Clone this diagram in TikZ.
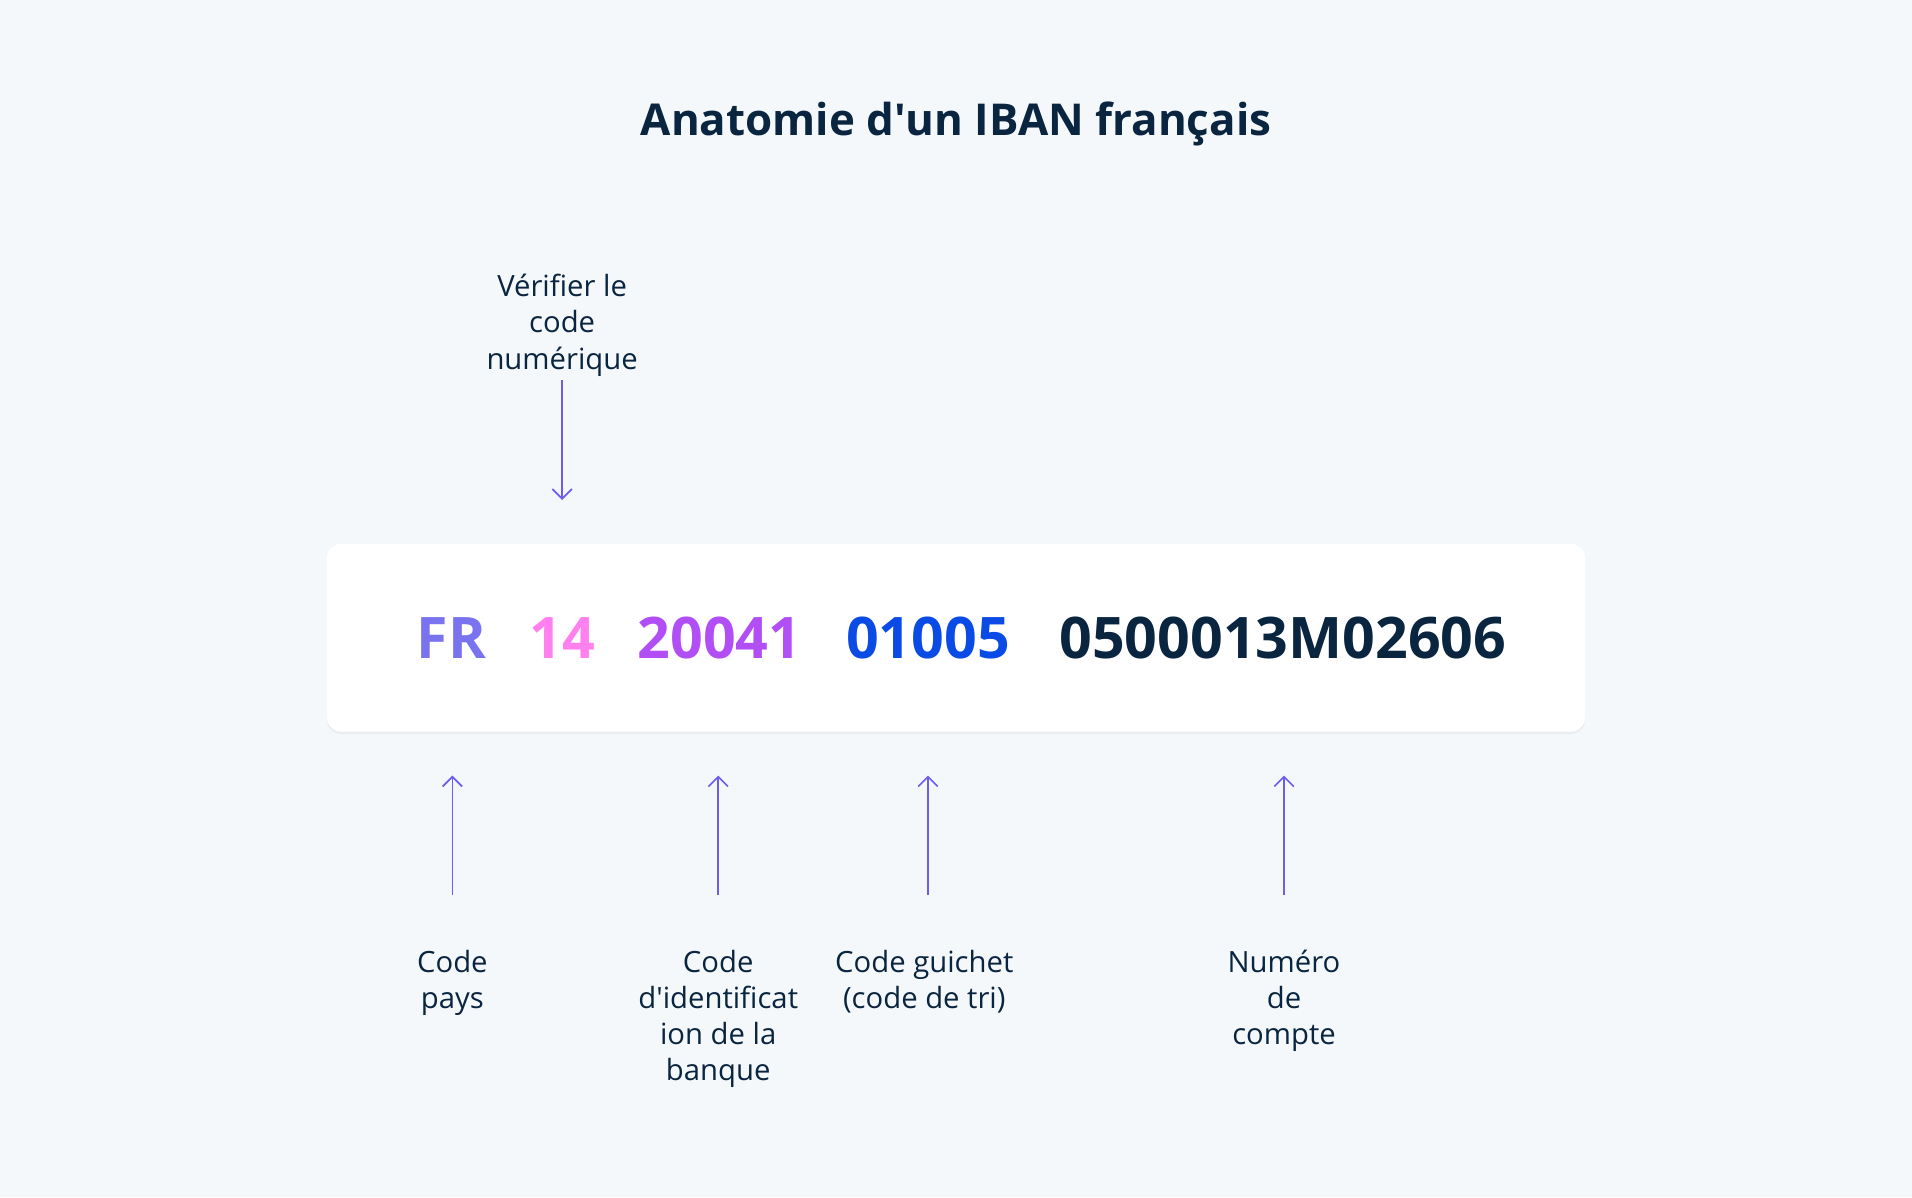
\documentclass[tikz,border=0pt]{standalone}
\usepackage{fontspec}
\setmainfont{Open Sans}
\usetikzlibrary{arrows.meta,shadows}
\definecolor{bg}{HTML}{F5F8FB}
\definecolor{navy}{HTML}{0A2540}
\definecolor{arr}{HTML}{6E5CF0}
\definecolor{cfr}{HTML}{7A73F0}
\definecolor{c14}{HTML}{FF80EE}
\definecolor{cbank}{HTML}{B14EF5}
\definecolor{cblue}{HTML}{0A4BE6}
\begin{document}
\begin{tikzpicture}[x=0.5pt,y=-0.5pt,
  lab/.style={align=center,text=navy,font=\fontsize{12}{14.8}\selectfont,anchor=north},
  num/.style={font=\fontsize{23.5}{26}\selectfont\bfseries},
  ar/.style={draw=arr,line width=0.7pt,-{Straight Barb[length=4pt,width=8pt]}}]
\fill[bg] (0,0) rectangle (1568,982);
\useasboundingbox (0,0) rectangle (1568,982);
\node[text=navy,font=\fontsize{18}{22}\selectfont\bfseries] (title) at (784,102) {Anatomie d\textquotesingle un IBAN français};
\node[fill=white,rounded corners=6pt,minimum width=516pt,minimum height=77pt,
  drop shadow={opacity=0.08,shadow xshift=0pt,shadow yshift=-1pt}] (box) at (784,523) {};
\node[num,text=cfr] (fr) at (370,523) {FR};
\node[num,text=c14] (n14) at (461,523) {14};
\node[num,text=cbank] (bank) at (590,523) {20041};
\node[num,text=cblue] (gui) at (761,523) {01005};
\node[num,text=navy] (acc) at (1052,523) {0500013M02606};
\node[lab] (lv) at (461,218) {Vérifier le\\code\\numérique};
\coordinate (v1) at (461,312); \coordinate (v2) at (461,410);
\draw[ar] (v1) -- (v2);
\node[lab] (l1) at (371,772) {Code\\pays};
\node[lab] (l2) at (589,772) {Code\\d\textquotesingle identificat\\ion de la\\banque};
\node[lab] (l3) at (758,772) {Code guichet\\(code de tri)};
\node[lab] (l4) at (1053,772) {Numéro\\de\\compte};
\foreach \x/\n in {371/a,589/b,761/c,1053/d}{
  \coordinate (\n1) at (\x,734); \coordinate (\n2) at (\x,636);
  \draw[ar] (\n1) -- (\n2);}
\end{tikzpicture}
\end{document}
